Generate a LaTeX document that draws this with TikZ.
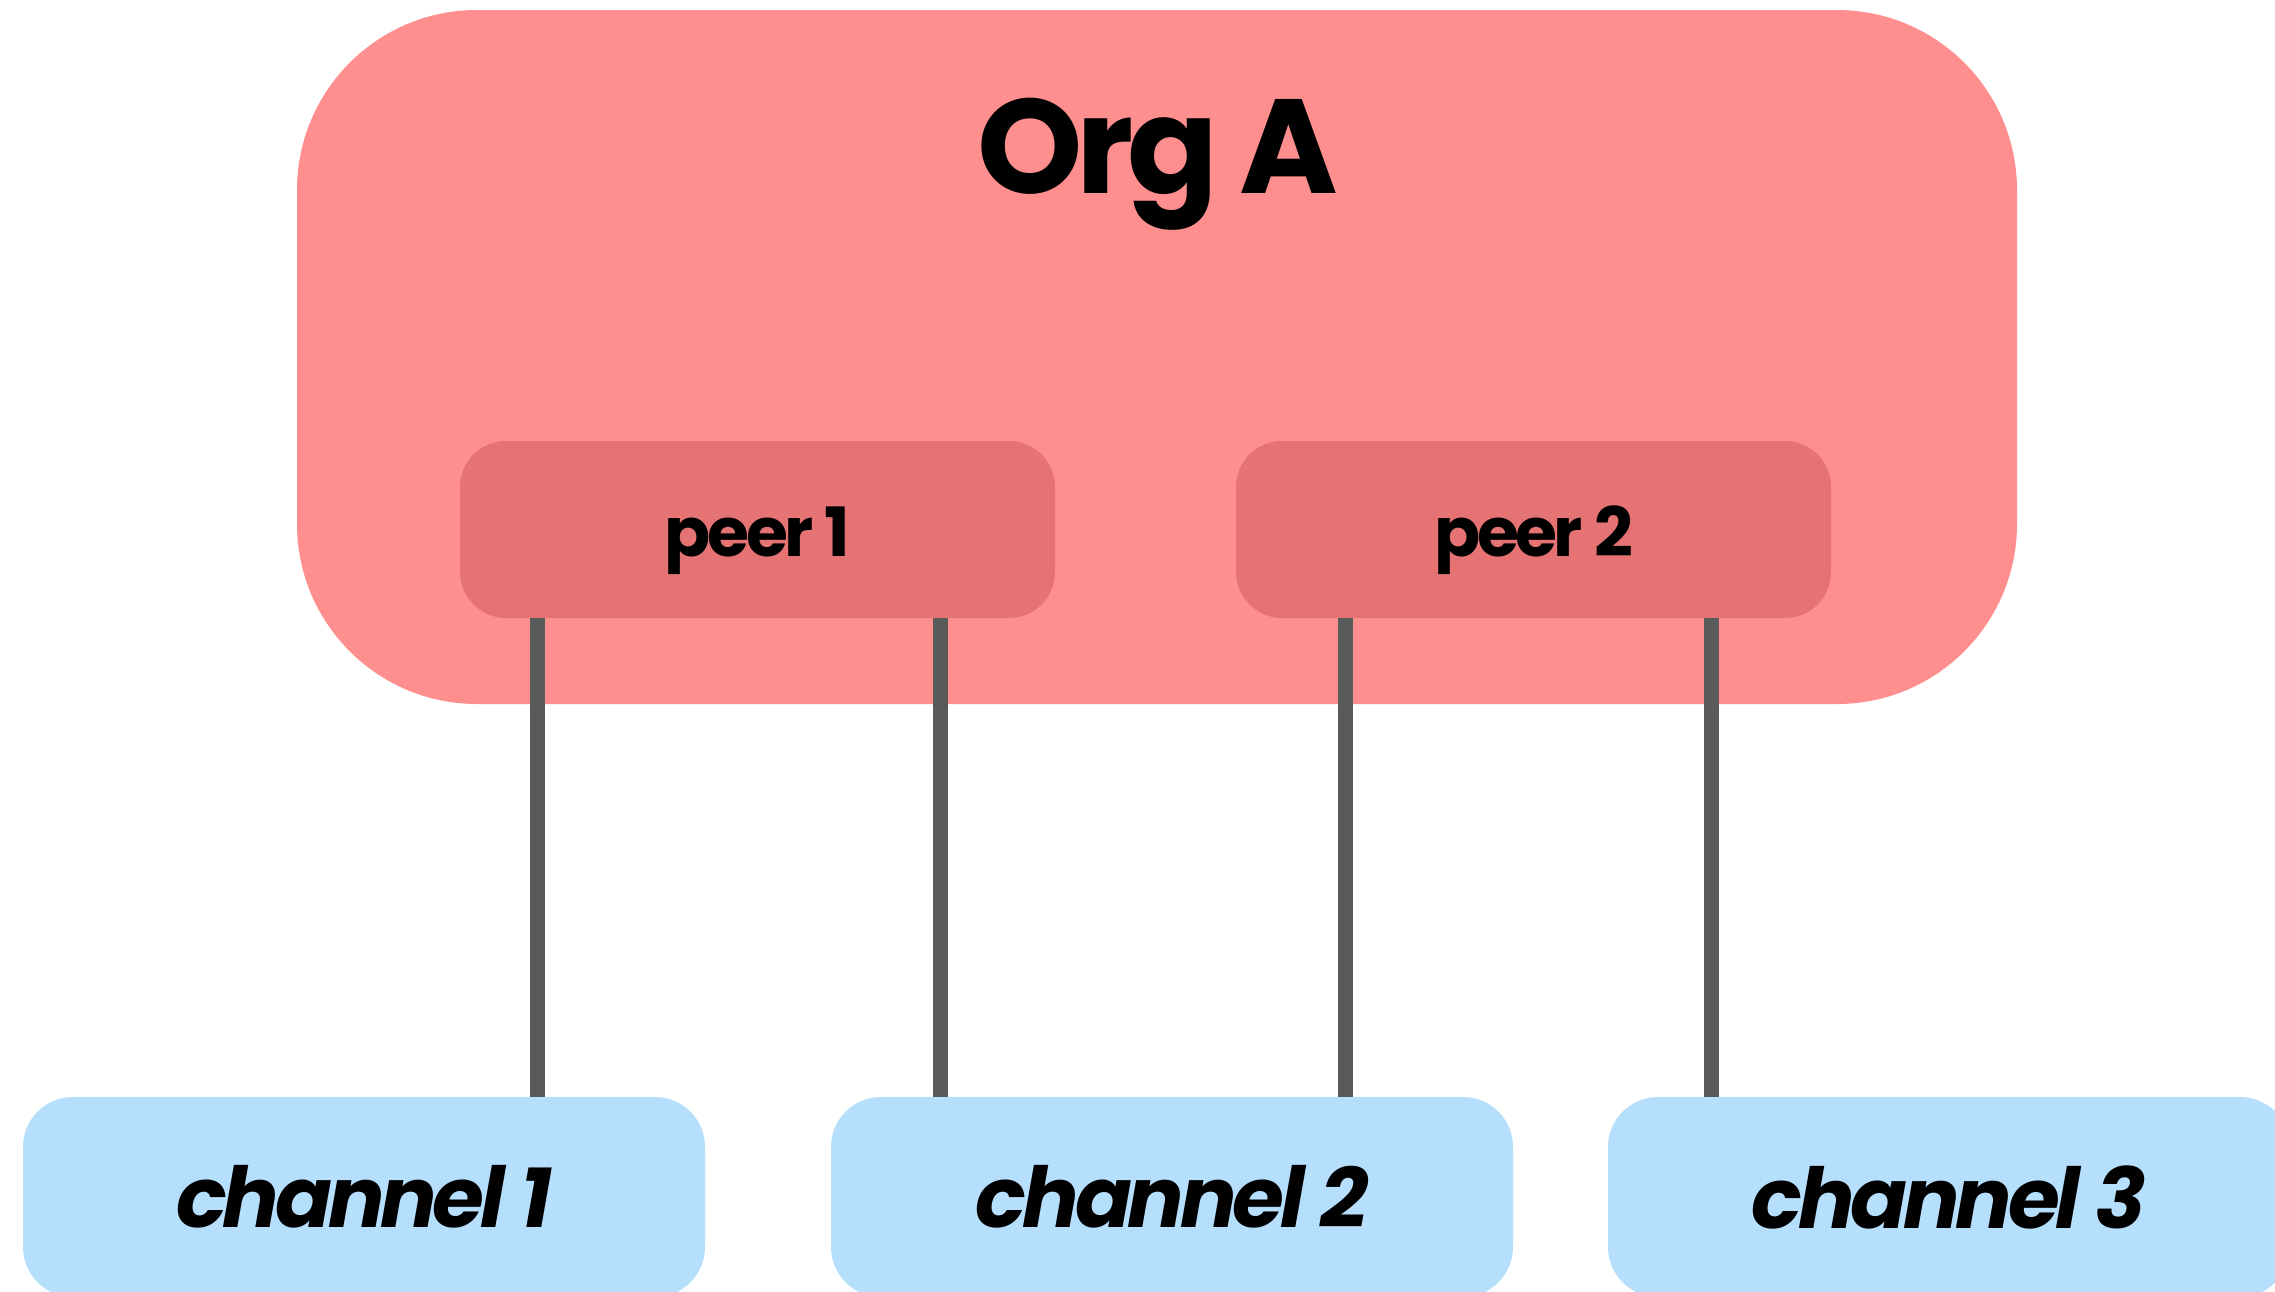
\documentclass[tikz,border=0pt]{standalone}
\usepackage{fontspec}
\setmainfont{Poppins}[LetterSpace=-5]
\definecolor{orgfill}{HTML}{FF8F8F}
\definecolor{peerfill}{HTML}{E57373}
\definecolor{linkgray}{HTML}{5A5A5A}
\definecolor{chanfill}{HTML}{B5DFFD}
\tikzset{
  orgbox/.style={rectangle, fill=orgfill, rounded corners=90pt, inner sep=0pt, outer sep=0pt,
    minimum width=860pt, minimum height=347pt},
  peerbox/.style={rectangle, fill=peerfill, rounded corners=23pt, inner sep=0pt, outer sep=0pt,
    minimum width=297.5pt, minimum height=88.5pt},
  peertext/.style={font=\fontsize{34}{40}\selectfont\bfseries, inner sep=0pt},
  chanbox/.style={rectangle, fill=chanfill, rounded corners=25pt, inner sep=0pt, outer sep=0pt,
    minimum width=341pt, minimum height=100pt, font=\fontsize{42}{50}\selectfont\bfseries\itshape},
  link/.style={draw=linkgray, line width=7.5pt},
}
\begin{document}
\begin{tikzpicture}[x=0.5pt, y=-0.5pt]
  \useasboundingbox (0,0) rectangle (2275,1291);
  \fill[white] (0,0) rectangle (2275,1291);

  % organisation and its peers
  \node[orgbox] (org) at (1157,357) {};
  \node[font=\fontsize{67}{80}\selectfont\bfseries, anchor=base] (orgname) at (1158,193) {Org A};
  \node[peerbox] (peer1) at (757.5,529.5) {};
  \node[peerbox] (peer2) at (1533.5,529.5) {};
  \node[peertext, anchor=base] (peer1label) at (peer1.center |- 0,556) {peer 1};
  \node[peertext, anchor=base] (peer2label) at (peer2.center |- 0,556) {peer 2};

  % channels
  \node[chanbox] (ch1) at (364,1197) {channel 1};
  \node[chanbox] (ch2) at (1172,1197) {channel 2};
  \node[chanbox] (ch3) at (1949,1197) {channel 3};

  % attachment points on the peers
  \coordinate (p1a) at ([xshift=38.5pt]peer1.south west);
  \coordinate (p1b) at ([xshift=240pt]peer1.south west);
  \coordinate (p2a) at ([xshift=54.5pt]peer2.south west);
  \coordinate (p2b) at ([xshift=237.5pt]peer2.south west);

  % peer-to-channel links
  \draw[link] (p1a) -- (p1a |- ch1.north);
  \draw[link] (p1b) -- (p1b |- ch2.north);
  \draw[link] (p2a) -- (p2a |- ch2.north);
  \draw[link] (p2b) -- (p2b |- ch3.north);
\end{tikzpicture}
\end{document}
